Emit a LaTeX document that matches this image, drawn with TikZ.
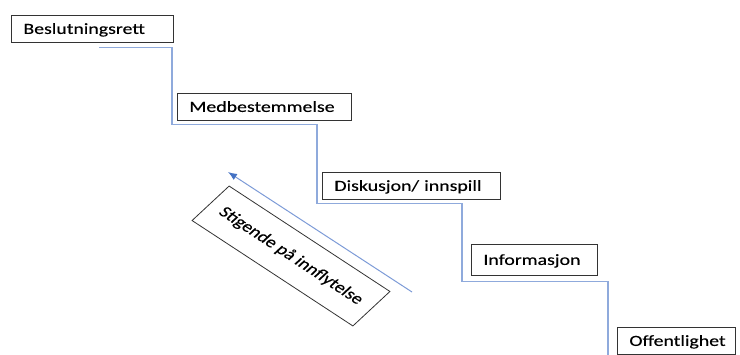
\documentclass[tikz,border=0pt]{standalone}
\usepackage{fontspec}
\setmainfont{Carlito}
\newfontfamily\boxfont{Carlito}[FakeStretch=1.28,FakeBold=0.3]
\newfontfamily\risefont{Carlito}[FakeBold=0.3]
\usetikzlibrary{
  arrows.meta,
  calc,
  positioning,
}
\definecolor{stairblue}{RGB}{143,170,220}
\definecolor{arrowline}{RGB}{125,155,215}
\definecolor{arrowblue}{RGB}{68,114,196}

\tikzset{
  stepbox/.style={draw=black!80, line width=0.8pt, anchor=north west,
    inner xsep=12pt, inner ysep=0pt, align=left, minimum height=27pt,
    text height=10pt, text depth=0pt,
    font=\boxfont\fontsize{15.5}{18}\selectfont},
  stair/.style={draw=stairblue, line width=1.2pt},
  risearrow/.style={draw=arrowline, line width=1pt,
    -{Latex[length=9pt,width=7pt,color=arrowblue]}},
}

\begin{document}
\begin{tikzpicture}[x=1pt,y=-1pt]
\useasboundingbox (0,0) rectangle (740,354);

\node[stepbox, text width=138pt] (besl) at (11,15) {Beslutningsrett};
\node[stepbox, text width=150pt] (medb) at (177,93) {Medbestemmelse};
\node[stepbox, text width=154pt] (disk) at (322,172) {Diskusjon/ innspill};
\node[stepbox, text width=102pt, minimum height=31pt] (info) at (471,244) {Informasjon};
\node[stepbox, text width=94pt] (offe) at (617,327) {Offentlighet};

% trappen
\draw[stair] ($(besl.south)+(7,5)$) -| ($(medb.south west)+(-5,4)$)
  -| ($(disk.south west)+(-5,4)$) -| ($(info.south west)+(-9,6)$)
  -| ($(offe.south west)+(-9,0)$);

\coordinate (lowend) at (412,292);
\coordinate (highend) at (228,172);
\draw[risearrow] (lowend) -- (highend);

\begin{scope}[shift={(291,256)}, xscale=1.28]
\node[draw=black!80, line width=0.8pt, rotate=-40, transform shape,
  minimum width=164pt, minimum height=45pt,
  font=\risefont\fontsize{15.5}{18}\selectfont] (rise) at (0,0) {Stigende på innflytelse};
\end{scope}
\end{tikzpicture}
\end{document}
